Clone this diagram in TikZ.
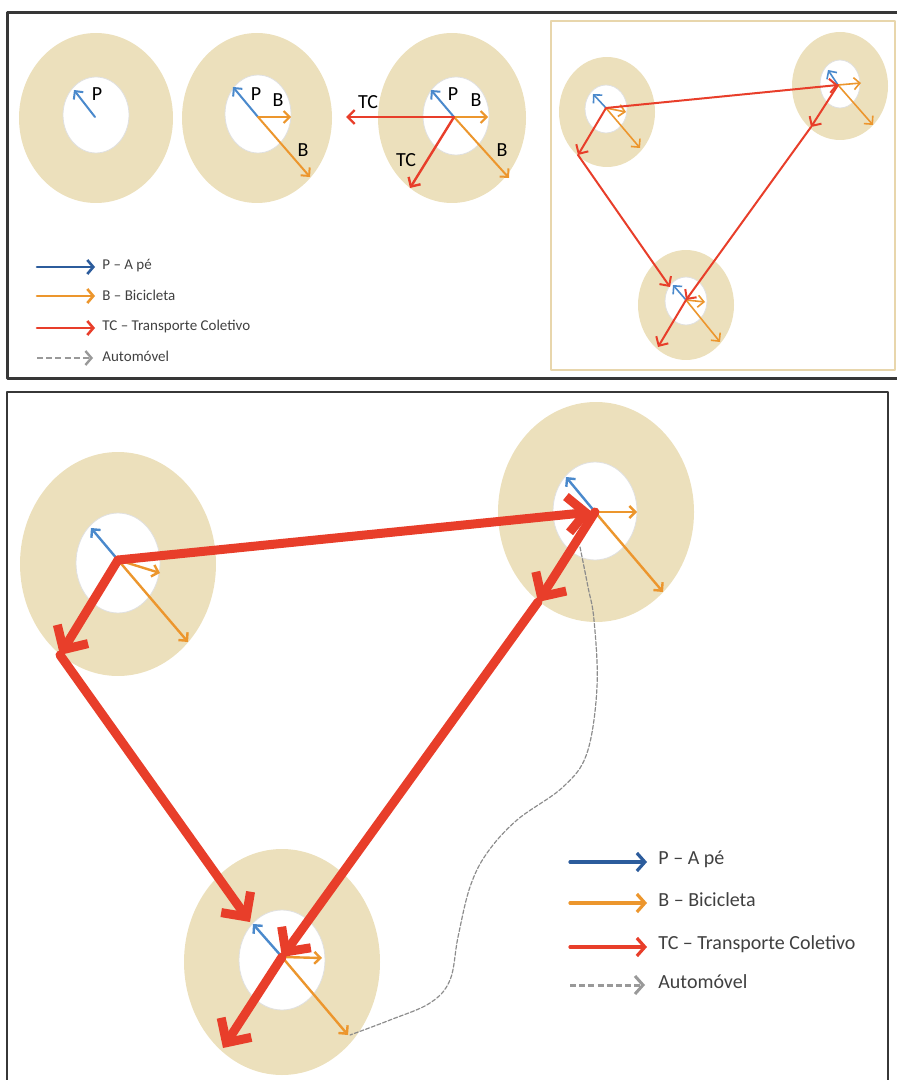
\documentclass[tikz,border=0pt]{standalone}
\usepackage{fontspec}
\setmainfont{Carlito}
\usetikzlibrary{arrows.meta}
\definecolor{areia}{RGB}{236,224,188}
\definecolor{bordaareia}{RGB}{232,214,172}
\definecolor{azul}{RGB}{74,137,204}
\definecolor{azulesc}{RGB}{44,92,156}
\definecolor{laranja}{RGB}{236,150,45}
\definecolor{vermelho}{RGB}{232,62,42}
\definecolor{moldura}{RGB}{55,55,55}
\begin{document}
\begin{tikzpicture}[x=0.5pt, y=-0.5pt, line cap=round, line join=round,
    zona/.style={fill=areia},
    miolo/.style={fill=white, draw=black!12, line width=0.4pt},
    pe/.style={draw=azul, line width=1pt, -{Straight Barb[length=3pt,width=6pt]}},
    bici/.style={draw=laranja, line width=1pt, -{Straight Barb[length=3pt,width=6pt]}},
    tc/.style={draw=vermelho, line width=1.2pt, -{Straight Barb[length=3.5pt,width=7pt]}},
    rotulo/.style={font=\fontsize{10}{12}\selectfont, inner sep=0pt},
    legenda/.style={font=\fontsize{7.5}{9}\selectfont, anchor=west, inner sep=0pt, text=black!75},
    legendag/.style={font=\fontsize{10}{12}\selectfont, anchor=west, inner sep=0pt, text=black!75},
    tracejado/.style={draw=black!40, dash pattern=on 3pt off 1.6pt, line cap=butt}]
  \useasboundingbox (0,0) rectangle (896,1080);

  % ---------- Painel superior ----------
  \begin{scope}
    % 1. moldura
    \draw[moldura, line width=1.5pt] (7,13) rectangle (905,378);

    % 2. zonas (coroa + miolo)
    \fill[zona] (96,118) ellipse (77 and 85);
    \filldraw[miolo] (96,115) ellipse (33 and 38);
    \fill[zona] (257,118) ellipse (75 and 85);
    \filldraw[miolo] (258,114) ellipse (33 and 39);
    \fill[zona] (452,118) ellipse (74 and 85);
    \filldraw[miolo] (456,116) ellipse (33 and 39);

    % 3. origens e pontas
    \coordinate (o1) at (95,117);   \coordinate (p1) at (74,90);
    \coordinate (o2) at (258,117);  \coordinate (p2) at (233,87);
    \coordinate (b2) at (291,117);  \coordinate (d2) at (310,177);
    \coordinate (o3) at (454,117);  \coordinate (p3) at (431,90);
    \coordinate (b3) at (488,117);  \coordinate (d3) at (509,178);
    \coordinate (t3) at (346,117);  \coordinate (s3) at (410,188);

    % 4. setas
    \draw[pe] (o1) -- (p1);
    \draw[pe] (o2) -- (p2);
    \draw[bici] (o2) -- (b2);
    \draw[bici] (o2) -- (d2);
    \draw[pe] (o3) -- (p3);
    \draw[bici] (o3) -- (b3);
    \draw[bici] (o3) -- (d3);
    \draw[tc] (o3) -- (t3);
    \draw[tc] (o3) -- (s3);

    % 5. rotulos
    \node[rotulo] (lp1) at (97,94) {P};
    \node[rotulo] (lp2) at (256,94) {P};
    \node[rotulo] (lb2) at (278,100) {B};
    \node[rotulo] (ld2) at (303,150) {B};
    \node[rotulo] (lt3) at (368,102) {TC};
    \node[rotulo] (lp3) at (453,94) {P};
    \node[rotulo] (lb3) at (476,100) {B};
    \node[rotulo] (ls3) at (406,160) {TC};
    \node[rotulo] (ld3) at (502,150) {B};

    % 6. legenda
    \coordinate (la1) at (37,267);  \coordinate (lz1) at (95,267);
    \coordinate (la2) at (37,296);  \coordinate (lz2) at (95,296);
    \coordinate (la3) at (37,328);  \coordinate (lz3) at (95,328);
    \coordinate (la4) at (37,358);  \coordinate (lz4) at (93,358);
    \draw[azulesc, line width=1.3pt, -{Straight Barb[length=3pt,width=7pt]}] (la1) -- (lz1);
    \draw[laranja, line width=1.3pt, -{Straight Barb[length=3pt,width=7pt]}] (la2) -- (lz2);
    \draw[vermelho, line width=1.3pt, -{Straight Barb[length=3pt,width=7pt]}] (la3) -- (lz3);
    \draw[tracejado, line width=1.2pt, -{Straight Barb[length=3pt,width=7pt]}] (la4) -- (lz4);
    \node[legenda] (tl1) at (102,266) {P – A pé};
    \node[legenda] (tl2) at (102,295) {B – Bicicleta};
    \node[legenda] (tl3) at (102,327) {TC – Transporte Coletivo};
    \node[legenda] (tl4) at (102,356) {Automóvel};
  \end{scope}

  % ---------- Painel superior direito ----------
  \begin{scope}
    % 1. moldura
    \draw[bordaareia, line width=0.8pt] (551,21) rectangle (895,370);

    % 2. zonas
    \fill[zona] (607,112) ellipse (48 and 55);
    \filldraw[miolo] (606,109) ellipse (21 and 24);
    \fill[zona] (840,86) ellipse (48 and 54);
    \filldraw[miolo] (840,84) ellipse (20 and 24);
    \fill[zona] (686,305) ellipse (48 and 55);
    \filldraw[miolo] (686,301) ellipse (21 and 24);

    % 3. origens e pontas
    \coordinate (oA) at (606,108); \coordinate (pA) at (593,94);
    \coordinate (bA) at (626,112); \coordinate (dA) at (640,148);
    \coordinate (tA) at (578,155);
    \coordinate (oB) at (838,85);  \coordinate (pB) at (828,70);
    \coordinate (bB) at (861,83);  \coordinate (dB) at (873,125);
    \coordinate (tB) at (811,127);
    \coordinate (oC) at (686,300); \coordinate (pC) at (673,285);
    \coordinate (bC) at (705,302); \coordinate (dC) at (720,342);
    \coordinate (tC) at (658,347); \coordinate (eC) at (670,287);

    % 4. setas locais
    \draw[pe, line width=0.8pt] (oA) -- (pA);
    \draw[bici, line width=0.8pt] (oA) -- (bA);
    \draw[bici, line width=0.8pt] (oA) -- (dA);
    \draw[pe, line width=0.8pt] (oB) -- (pB);
    \draw[bici, line width=0.8pt] (oB) -- (bB);
    \draw[bici, line width=0.8pt] (oB) -- (dB);
    \draw[pe, line width=0.8pt] (oC) -- (pC);
    \draw[bici, line width=0.8pt] (oC) -- (bC);
    \draw[bici, line width=0.8pt] (oC) -- (dC);

    % 5. transporte coletivo
    \draw[tc, line width=1pt] (oA) -- (tA);
    \draw[tc, line width=1pt] (oA) -- (oB);
    \draw[tc, line width=1pt] (tA) -- (eC);
    \draw[tc, line width=1pt] (oB) -- (tB);
    \draw[tc, line width=1pt] (tB) -- (oC);
    \draw[tc, line width=1pt] (oC) -- (tC);
  \end{scope}

  % ---------- Painel inferior ----------
  \begin{scope}
    % 1. moldura
    \draw[moldura, line width=1.2pt] (7,392) rectangle (888,1095);

    % 2. zonas
    \fill[zona] (118,564) ellipse (98 and 112);
    \filldraw[miolo] (118,563) ellipse (42 and 50);
    \fill[zona] (596,512) ellipse (98 and 110);
    \filldraw[miolo] (595,511) ellipse (42 and 49);
    \fill[zona] (282,962) ellipse (98 and 113);
    \filldraw[miolo] (282,960) ellipse (43 and 50);

    % 3. origens e pontas
    \coordinate (oL) at (118,560); \coordinate (pL) at (91,528);
    \coordinate (bL) at (160,573); \coordinate (dL) at (188,642);
    \coordinate (tL) at (60,655);
    \coordinate (oR) at (595,512); \coordinate (pR) at (566,477);
    \coordinate (bR) at (637,512); \coordinate (dR) at (663,592);
    \coordinate (tR) at (538,602); \coordinate (eR) at (592,512);
    \coordinate (oD) at (282,957); \coordinate (pD) at (253,924);
    \coordinate (bD) at (322,958); \coordinate (dD) at (348,1035);
    \coordinate (tD) at (223,1048); \coordinate (eD) at (250,922);

    % 4. automovel
    \draw[black!45, line width=0.6pt, dash pattern=on 2pt off 1pt]
      plot[smooth, tension=0.6] coordinates {(580,547) (588,587) (594,620) (597,687)
        (587,753) (563,787) (517,820) (487,853) (470,887) (458,937) (450,980)
        (430,1003) (390,1020) (350,1035)};

    % 5. setas locais
    \draw[pe, line width=1.2pt] (oL) -- (pL);
    \draw[bici, line width=1.2pt] (oL) -- (bL);
    \draw[bici, line width=1.2pt] (oL) -- (dL);
    \draw[pe, line width=1.2pt] (oR) -- (pR);
    \draw[bici, line width=1.2pt] (oR) -- (bR);
    \draw[bici, line width=1.2pt] (oR) -- (dR);
    \draw[pe, line width=1.2pt] (oD) -- (pD);
    \draw[bici, line width=1.2pt] (oD) -- (bD);
    \draw[bici, line width=1.2pt] (oD) -- (dD);

    % 6. transporte coletivo (grosso)
    \tikzset{tcg/.style={draw=vermelho, line width=4.5pt, -{Straight Barb[length=9pt,width=18pt]}}}
    \draw[tcg] (oL) -- (tL);
    \draw[tcg] (oL) -- (eR);
    \draw[tcg] (tL) -- (eD);
    \draw[tcg] (oR) -- (tR);
    \draw[tcg] (tR) -- (oD);
    \draw[tcg] (oD) -- (tD);

    % 7. legenda
    \coordinate (ma1) at (570,862); \coordinate (mz1) at (647,862);
    \coordinate (ma2) at (570,903); \coordinate (mz2) at (647,903);
    \coordinate (ma3) at (570,947); \coordinate (mz3) at (647,947);
    \coordinate (ma4) at (570,985); \coordinate (mz4) at (645,985);
    \draw[azulesc, line width=1.6pt, -{Straight Barb[length=4pt,width=9pt]}] (ma1) -- (mz1);
    \draw[laranja, line width=1.6pt, -{Straight Barb[length=4pt,width=9pt]}] (ma2) -- (mz2);
    \draw[vermelho, line width=1.6pt, -{Straight Barb[length=4pt,width=9pt]}] (ma3) -- (mz3);
    \draw[tracejado, line width=1.5pt, -{Straight Barb[length=4pt,width=9pt]}] (ma4) -- (mz4);
    \node[legendag] (tm1) at (658,859) {P – A pé};
    \node[legendag] (tm2) at (658,900) {B – Bicicleta};
    \node[legendag] (tm3) at (658,944) {TC – Transporte Coletivo};
    \node[legendag] (tm4) at (658,982) {Automóvel};
  \end{scope}
\end{tikzpicture}
\end{document}
